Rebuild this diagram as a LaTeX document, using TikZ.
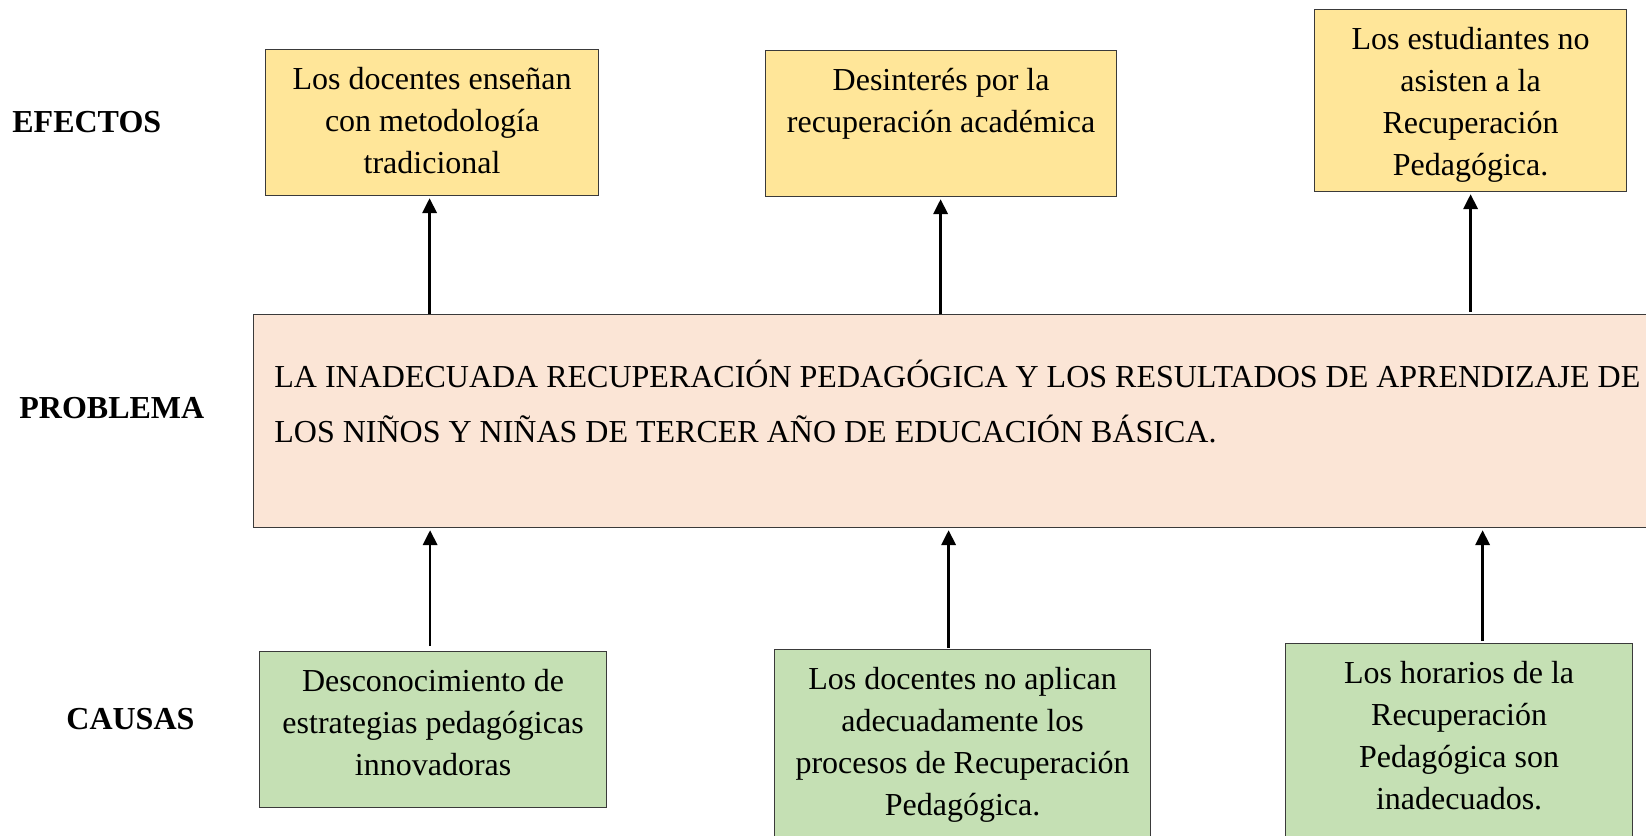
\documentclass[tikz,border=0pt]{standalone}
\usepackage{fontspec}
\setmainfont{Liberation Serif}
\usetikzlibrary{arrows.meta,calc}
\definecolor{effcol}{HTML}{FFE699}
\definecolor{probcol}{HTML}{FBE5D6}
\definecolor{causecol}{HTML}{C5E0B4}
\definecolor{edgecol}{HTML}{3A3A3A}
\tikzset{
  boxbase/.style={draw=edgecol, line width=0.6pt, inner sep=0pt, anchor=north west, rectangle},
  effbox/.style={boxbase, fill=effcol},
  causebox/.style={boxbase, fill=causecol},
  probbox/.style={boxbase, fill=probcol},
  boxtext/.style={anchor=north, inner sep=0pt, align=center, font=\fontsize{16}{21}\selectfont, yshift=-5.3pt},
  probtext/.style={anchor=north west, inner sep=0pt, align=left, font=\fontsize{16}{27.5}\selectfont},
  rowlabel/.style={anchor=base west, inner sep=0pt, font=\fontsize{16}{21}\selectfont\bfseries},
  arr/.style={line width=1.25pt, -{Triangle[length=7.5pt,width=7.2pt]}}
}
\begin{document}
\begin{tikzpicture}[x=0.5pt,y=-0.5pt]
\useasboundingbox (0,0) rectangle (1646,836);
\clip (0,0) rectangle (1646,836);
% row labels
\node[rowlabel] (lef) at (12,132) {EFECTOS};
\node[rowlabel] (lpr) at (19,418) {PROBLEMA};
\node[rowlabel] (lca) at (66,729) {CAUSAS};
% problem
\node[probbox, minimum width=710pt, minimum height=106.5pt] (prob) at (253,314) {};
\node[probtext] (probt) at (274,348.5) {\strut LA INADECUADA RECUPERACIÓN PEDAGÓGICA Y LOS RESULTADOS DE APRENDIZAJE DE\\LOS NIÑOS Y NIÑAS DE TERCER AÑO DE EDUCACIÓN BÁSICA.};
% effects
\node[effbox, minimum width=166.5pt, minimum height=73pt] (e1) at (265,49) {};
\node[effbox, minimum width=175.5pt, minimum height=73pt] (e2) at (765,50) {};
\node[effbox, minimum width=156pt, minimum height=91pt] (e3) at (1314,9) {};
\node[boxtext] (e1t) at (e1.north) {\strut Los docentes enseñan\\con metodología\\tradicional};
\node[boxtext] (e2t) at (e2.north) {\strut Desinterés por la\\recuperación académica};
\node[boxtext] (e3t) at (e3.north) {\strut Los estudiantes no\\asisten a la\\Recuperación\\Pedagógica.};
% causes
\node[causebox, minimum width=173.5pt, minimum height=78pt] (c1) at (259,651) {};
\node[causebox, minimum width=188pt, minimum height=110pt] (c2) at (774,649) {};
\node[causebox, minimum width=173.5pt, minimum height=110pt] (c3) at (1285,643) {};
\node[boxtext] (c1t) at (c1.north) {\strut Desconocimiento de\\estrategias pedagógicas\\innovadoras};
\node[boxtext] (c2t) at (c2.north) {\strut Los docentes no aplican\\adecuadamente los\\procesos de Recuperación\\Pedagógica.};
\node[boxtext] (c3t) at (c3.north) {\strut Los horarios de la\\Recuperación\\Pedagógica son\\inadecuados.};
% arrows problem -> effects
\draw[arr] ($(e1.south |- prob.north)+(-2.5,0)$) -- ($(e1.south)+(-2.5,2)$);
\draw[arr] ($(e2.south |- prob.north)+(-0.5,0)$) -- ($(e2.south)+(-0.5,2)$);
\draw[arr] ($(e3.south |- prob.north)+(0,-2)$) -- ($(e3.south)+(0,2)$);
% arrows causes -> problem
\draw[arr] ($(c1.north)+(-3,-5)$) -- ($(c1.north |- prob.south)+(-3,2)$);
\draw[arr] ($(c2.north)+(-14,-1)$) -- ($(c2.north |- prob.south)+(-14,2)$);
\draw[arr] ($(c3.north)+(23.5,-2)$) -- ($(c3.north |- prob.south)+(23.5,2)$);
\end{tikzpicture}
\end{document}
